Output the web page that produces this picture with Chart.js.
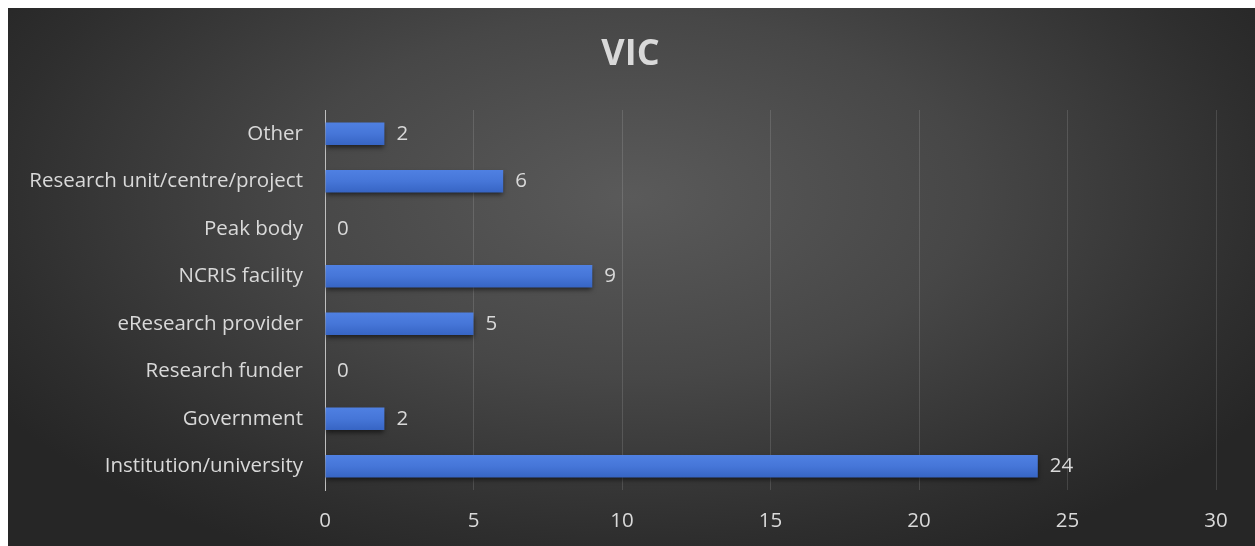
<!DOCTYPE html>
<html>
<head>
<meta charset="utf-8">
<script src="https://cdn.jsdelivr.net/npm/chart.js@4"></script>
<style>
  html, body { margin: 0; padding: 0; background: #fff; }
  #wrap {
    position: absolute; left: 8px; top: 8px; width: 1247px; height: 538px;
    background: radial-gradient(ellipse 60% 75% at 50% 35%, #5a5a5a 0%, #474747 45%, #2e2e2e 85%, #262626 100%);
  }
</style>
</head>
<body>
<div id="wrap"><canvas id="myChart" width="1247" height="538"></canvas></div>
<script>
var labels = [
    'Other',
    'Research unit/centre/project',
    'Peak body',
    'NCRIS facility',
    'eResearch provider',
    'Research funder',
    'Government',
    'Institution/university'
];
var counts = [2, 6, 0, 9, 5, 0, 2, 24];
var xTicks = [0, 5, 10, 15, 20, 25, 30];
var titleText = 'VIC';

var textColor = '#d9d9d9';
var fontFamily = "'Open Sans', 'Noto Sans', sans-serif";
var fontSize = 20.5;

// shadow under bars
var barShadow = {
    id: 'barShadow',
    beforeDatasetsDraw: function (chart) {
        var c = chart.ctx;
        c.save();
        c.shadowColor = 'rgba(0,0,0,0.6)';
        c.shadowBlur = 5;
        c.shadowOffsetY = 3;
    },
    afterDatasetsDraw: function (chart) {
        chart.ctx.restore();
    }
};

// value labels after each bar + title centred on the whole canvas
var valueLabels = {
    id: 'valueLabels',
    afterDraw: function (chart) {
        var c = chart.ctx;
        var meta = chart.getDatasetMeta(0);
        c.save();
        c.fillStyle = textColor;
        c.font = fontSize + 'px ' + fontFamily;
        c.textAlign = 'left';
        c.textBaseline = 'middle';
        meta.data.forEach(function (bar, i) {
            c.fillText(String(counts[i]), bar.x + 12, bar.y);
        });
        c.font = 'bold 36px ' + fontFamily;
        c.textAlign = 'center';
        c.fillText(titleText, chart.width / 2 - 1, 47);
        c.restore();
    }
};

const ctx = document.getElementById('myChart').getContext('2d');
const myChart = new Chart(ctx, {
    type: 'bar',
    data: {
        labels: labels,
        datasets: [{
            data: counts,
            backgroundColor: function (context) {
                var chart = context.chart;
                var y = chart.scales.y;
                if (!y || y.top === undefined) return '#4472c4';
                var cy = y.getPixelForValue(context.dataIndex);
                var g = chart.ctx.createLinearGradient(0, cy - 11, 0, cy + 11);
                g.addColorStop(0, '#4f80e2');
                g.addColorStop(0.5, '#4676d8');
                g.addColorStop(1, '#3765c4');
                return g;
            },
            borderWidth: 0,
            barPercentage: 0.47,
            categoryPercentage: 1.0
        }]
    },
    options: {
        indexAxis: 'y',
        responsive: false,
        animation: false,
        layout: { padding: { left: 0, right: 39, top: 102, bottom: 0 } },
        plugins: {
            legend: { display: false },
            tooltip: { enabled: false },
            title: { display: false }
        },
        scales: {
            x: {
                min: 0,
                max: 30,
                afterBuildTicks: function (axis) {
                    axis.ticks = xTicks.map(function (v) { return { value: v }; });
                },
                afterFit: function (axis) { axis.height = 56; },
                grid: { color: 'rgba(255,255,255,0.13)', drawTicks: false },
                border: { display: false },
                ticks: { color: textColor, padding: 19, font: { family: fontFamily, size: fontSize } }
            },
            y: {
                afterFit: function (axis) { axis.width = 317; },
                grid: { display: false, drawTicks: false },
                border: { display: true, color: '#bfbfbf', width: 1 },
                ticks: { color: textColor, padding: 22, font: { family: fontFamily, size: fontSize } }
            }
        }
    },
    plugins: [barShadow, valueLabels]
});
</script>
</body>
</html>
